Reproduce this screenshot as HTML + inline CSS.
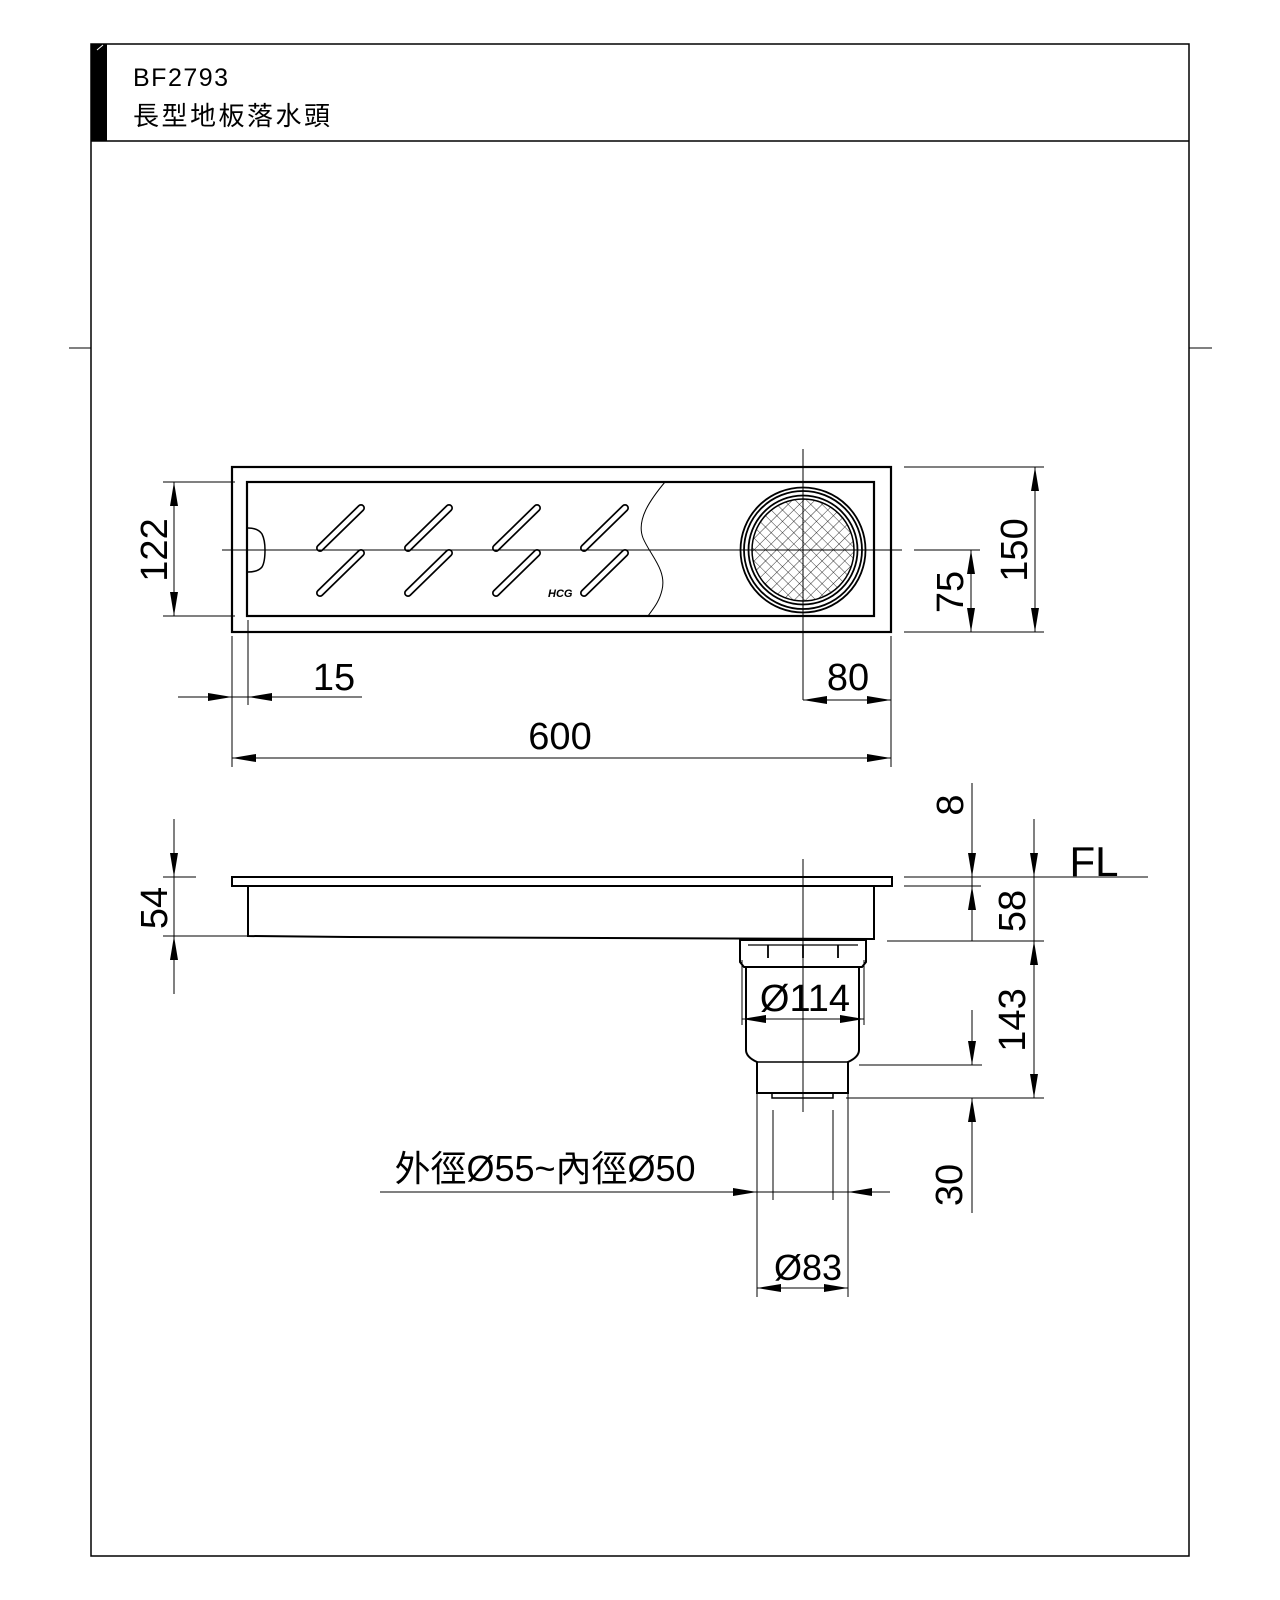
<!DOCTYPE html>
<html><head><meta charset="utf-8"><style>
html,body{margin:0;padding:0;background:#fff;}
svg{display:block;}
text{font-family:"Liberation Sans","Noto Sans CJK TC",sans-serif;fill:#000;}
</style></head><body>
<svg id="s" width="1280" height="1600" viewBox="0 0 1280 1600" xmlns="http://www.w3.org/2000/svg">
<defs>
<pattern id="hatch" width="8" height="8" patternUnits="userSpaceOnUse" patternTransform="rotate(45 803 550)">
<path d="M0 0H8M0 0V8" stroke="#000" stroke-width="0.8"/>
</pattern>
</defs>
<g fill="none" stroke="#000">
<rect x="91" y="44" width="1098" height="1512" stroke-width="1.5"/>
<line x1="91" y1="141" x2="1189" y2="141" stroke-width="1.5"/>
<line x1="69" y1="348" x2="91" y2="348" stroke-width="1"/>
<line x1="1189" y1="348" x2="1212" y2="348" stroke-width="1"/>
</g>
<rect x="91" y="44" width="16" height="97" fill="#000"/>
<line x1="97" y1="50" x2="103" y2="45" stroke="#fff" stroke-width="1"/>
<text x="133" y="86" font-size="25" letter-spacing="1.5">BF2793</text>
<text x="133" y="125" font-size="26" letter-spacing="2.5">長型地板落水頭</text>

<g fill="none" stroke="#000">
<rect x="232" y="467" width="659" height="165" stroke-width="2.2"/>
<rect x="247" y="482" width="627" height="134" stroke-width="2.2"/>
<path d="M248 528 Q258 528 262 534 Q265 540 265 550 Q265 562 262 567 Q258 572 248 572" stroke-width="1.5"/>
<path d="M665 482 C650 500,636 520,643 538 C650 555,667 570,662 590 C659 603,652 610,648 616" stroke-width="1"/>
<circle cx="803" cy="550" r="62.5" stroke-width="1.8"/>
<circle cx="803" cy="550" r="59" stroke-width="1.8"/>
<circle cx="803" cy="550" r="54.5" stroke-width="1.8"/>
<circle cx="803" cy="550" r="51" stroke-width="1.5" fill="url(#hatch)"/>
</g>
<g id="slots" fill="none" stroke="#000" stroke-width="1.8"></g>
<text x="548" y="597" font-size="11" font-style="italic" font-weight="bold">HCG</text>
<g stroke="#000" stroke-width="1" fill="none">
<line x1="222" y1="550" x2="902" y2="550"/>
<line x1="914" y1="550" x2="980" y2="550"/>
<line x1="803" y1="449" x2="803" y2="700"/>
<line x1="163" y1="482" x2="235" y2="482"/><line x1="163" y1="616" x2="235" y2="616"/>
<line x1="174" y1="482" x2="174" y2="616"/>
<line x1="904" y1="467" x2="1044" y2="467"/><line x1="904" y1="632" x2="1044" y2="632"/>
<line x1="1035" y1="467" x2="1035" y2="632"/>
<line x1="971" y1="550" x2="971" y2="632"/>
<line x1="232" y1="636" x2="232" y2="767"/>
<line x1="248" y1="620" x2="248" y2="705"/>
<line x1="891" y1="636" x2="891" y2="767"/>
<line x1="178" y1="697" x2="362" y2="697"/>
<line x1="232" y1="758" x2="891" y2="758"/>
<line x1="803" y1="700" x2="891" y2="700"/>
</g>
<text x="0" y="0" font-size="38" text-anchor="middle" transform="translate(167 550) rotate(-90)">122</text>
<text x="0" y="0" font-size="38" text-anchor="middle" transform="translate(1027 550) rotate(-90)">150</text>
<text x="0" y="0" font-size="38" text-anchor="middle" transform="translate(963 592) rotate(-90)">75</text>
<text x="334" y="690" font-size="38" text-anchor="middle">15</text>
<text x="848" y="690" font-size="38" text-anchor="middle">80</text>
<text x="560" y="749" font-size="38" text-anchor="middle">600</text>

<g fill="none" stroke="#000" stroke-width="2">
<rect x="232" y="877" width="660" height="9"/>
<path d="M248 886 V936 L350 937 L874 939 V886"/>
<path d="M740 940 H866 V962 L862 967 H744 L740 962 Z"/>
<path d="M746 967 V1050 Q746 1057 757 1062 V1093 H848 V1062 Q859 1057 859 1050 V967"/>
<path d="M768 945 V958 M803 945 V958 M838 945 V958" stroke-width="1.8"/>
<line x1="748" y1="945" x2="858" y2="945" stroke-width="1.2"/>
<rect x="772" y="1093" width="61" height="5" stroke-width="1.5"/>
<line x1="757" y1="1062" x2="848" y2="1062" stroke-width="1.5"/>
</g>
<g stroke="#000" stroke-width="1" fill="none">
<line x1="803" y1="859" x2="803" y2="1112"/>
<line x1="174" y1="819" x2="174" y2="994"/>
<line x1="163" y1="877" x2="196" y2="877"/><line x1="163" y1="936" x2="248" y2="936"/>
<line x1="904" y1="877" x2="1148" y2="877"/>
<line x1="904" y1="886" x2="981" y2="886"/>
<line x1="887" y1="941" x2="1044" y2="941"/>
<line x1="972" y1="783" x2="972" y2="941"/>
<line x1="1034" y1="819" x2="1034" y2="1098"/>
<line x1="846" y1="1098" x2="1044" y2="1098"/>
<line x1="859" y1="1065" x2="982" y2="1065"/>
<line x1="972" y1="1010" x2="972" y2="1065"/>
<line x1="972" y1="1098" x2="972" y2="1213"/>
<line x1="742" y1="960" x2="742" y2="1025"/><line x1="864" y1="960" x2="864" y2="1025"/>
<line x1="742" y1="1019" x2="864" y2="1019"/>
<line x1="757" y1="1093" x2="757" y2="1297"/><line x1="848" y1="1093" x2="848" y2="1297"/>
<line x1="773" y1="1110" x2="773" y2="1200"/><line x1="833" y1="1110" x2="833" y2="1200"/>
<line x1="380" y1="1192" x2="890" y2="1192"/>
<line x1="757" y1="1288" x2="848" y2="1288"/>
</g>
<text x="0" y="0" font-size="38" text-anchor="middle" transform="translate(167 908) rotate(-90)">54</text>
<text x="0" y="0" font-size="38" text-anchor="middle" transform="translate(963 805) rotate(-90)">8</text>
<text x="0" y="0" font-size="38" text-anchor="middle" transform="translate(1025 911) rotate(-90)">58</text>
<text x="0" y="0" font-size="38" text-anchor="middle" transform="translate(1025 1020) rotate(-90)">143</text>
<text x="0" y="0" font-size="38" text-anchor="middle" transform="translate(962 1185) rotate(-90)">30</text>
<text x="1094" y="876" font-size="42" text-anchor="middle">FL</text>
<text x="805" y="1011" font-size="38" text-anchor="middle">Ø114</text>
<text x="808" y="1280" font-size="36" text-anchor="middle">Ø83</text>
<text x="545" y="1181" font-size="36" text-anchor="middle">外徑Ø55~內徑Ø50</text>
<g id="arrows" fill="#000"></g>
</svg>
<script>
var ns="http://www.w3.org/2000/svg";
var sl=document.getElementById("slots");
[320,408,496,584].forEach(function(x){[548,593].forEach(function(y){
 var p=document.createElementNS(ns,"path");
 p.setAttribute("d","M"+x+" "+y+" L"+(x+41)+" "+(y-40));
 p.setAttribute("stroke-linecap","round");p.setAttribute("stroke-width","8");
 sl.appendChild(p);
 var q=document.createElementNS(ns,"path");
 q.setAttribute("d","M"+x+" "+y+" L"+(x+41)+" "+(y-40));
 q.setAttribute("stroke","#fff");q.setAttribute("stroke-linecap","round");q.setAttribute("stroke-width","4.6");
 sl.appendChild(q);
});});
var ag=document.getElementById("arrows");
function a(x,y,d){var L=24,W=4,pts;
 if(d=="r")pts=[[x,y],[x-L,y-W],[x-L,y+W]];
 if(d=="l")pts=[[x,y],[x+L,y-W],[x+L,y+W]];
 if(d=="d")pts=[[x,y],[x-W,y-L],[x+W,y-L]];
 if(d=="u")pts=[[x,y],[x-W,y+L],[x+W,y+L]];
 var p=document.createElementNS(ns,"polygon");
 p.setAttribute("points",pts.map(function(t){return t.join(",")}).join(" "));ag.appendChild(p);}
a(174,482,"u");a(174,616,"d");
a(1035,467,"u");a(1035,632,"d");
a(971,550,"u");a(971,632,"d");
a(232,697,"r");a(248,697,"l");
a(232,758,"l");a(891,758,"r");
a(803,700,"l");a(891,700,"r");
a(174,877,"d");a(174,936,"u");
a(972,877,"d");a(972,886,"u");
a(1034,877,"d");a(1034,941,"u");a(1034,1098,"d");
a(972,1065,"d");a(972,1098,"u");
a(742,1019,"l");a(864,1019,"r");
a(757,1192,"r");a(848,1192,"l");
a(757,1288,"l");a(848,1288,"r");
</script>
</body></html>
